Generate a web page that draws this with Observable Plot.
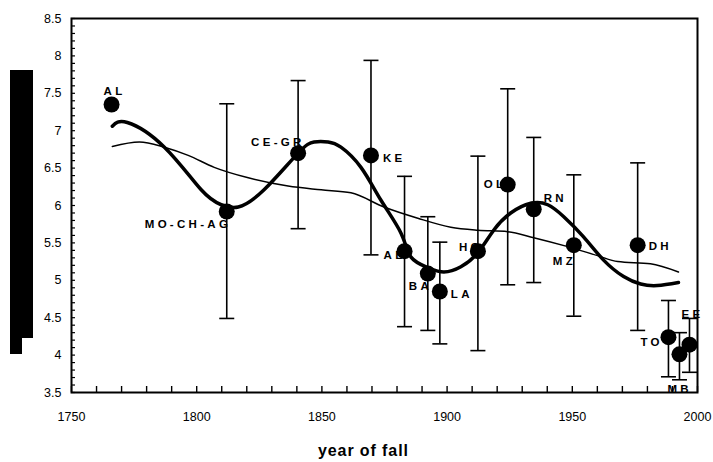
<!DOCTYPE html>
<html><head><meta charset="utf-8">
<script src="https://cdn.jsdelivr.net/npm/d3@7"></script>
<script src="https://cdn.jsdelivr.net/npm/@observablehq/plot@0.6"></script>
<style>
body{margin:0;background:#fff;font-family:"Liberation Sans",Arial,sans-serif;}
#wrap{position:relative;width:713px;height:462px;overflow:hidden;}
#ylab{position:absolute;left:10px;top:70px;width:23px;height:268px;background:#000;}
#ylab2{position:absolute;left:10px;top:337px;width:12px;height:17px;background:#000;}
#xlab{position:absolute;left:318px;top:441px;font-weight:bold;font-size:16px;letter-spacing:0.9px;line-height:20px;white-space:nowrap;}
svg g[aria-label="text"] text{letter-spacing:3.3px}
</style>
</head><body>
<div id="wrap"><div id="chart"></div><div id="ylab"></div><div id="ylab2"></div><div id="xlab">year of fall</div></div>
<script>
// Data
const codes   = ["AL","MO-CH-AG","CE-GR","KE","AB","BA","LA","HO","OL","RN","MZ","DH","TO","MB","EE"];
const years   = [1766,1812,1840.5,1869.6,1883,1892.3,1897.1,1912.3,1924.2,1934.6,1950.6,1976.1,1988.4,1992.8,1996.8];
const values  = [7.35,5.92,6.70,6.67,5.39,5.09,4.85,5.39,6.28,5.95,5.47,5.47,4.24,4.01,4.14];
const errLow  = [null,4.49,5.69,5.34,4.38,4.33,4.15,4.06,4.94,4.97,4.52,4.33,3.71,3.67,3.77];
const errHigh = [null,7.36,7.67,7.94,6.39,5.85,5.51,6.66,7.56,6.91,6.41,6.57,4.73,4.30,4.49];

const smoothYears  = [1766.3,1772.3,1787.1,1801.8,1809.8,1816.6,1826.9,1840.5,1846.9,1852.5,1857.6,1865.6,1873.6,1881.6,1885.6,1892.3,1898.7,1905.5,1912.3,1918.6,1925.4,1933.4,1940.2,1946.6,1954.5,1962.5,1970.5,1977.3,1984.0,1992.4];
const smoothValues = [7.06,7.11,6.78,6.21,6.01,5.98,6.21,6.70,6.85,6.85,6.78,6.51,6.07,5.63,5.31,5.17,5.11,5.18,5.37,5.67,5.90,6.03,6.01,5.85,5.58,5.27,5.05,4.95,4.93,4.97];

const avgYears  = [1766.3,1777.1,1787.1,1796.6,1807.0,1820.6,1836.5,1849.7,1861.6,1874.8,1888.3,1901.5,1912.3,1924.2,1934.6,1948.2,1960.1,1968.1,1981.2,1992.4];
const avgValues = [6.79,6.85,6.78,6.67,6.51,6.37,6.26,6.21,6.17,5.98,5.83,5.71,5.67,5.65,5.57,5.45,5.33,5.25,5.22,5.11];

const xTicks = [1750,1800,1850,1900,1950,2000];
const yTicks = [3.5,4,4.5,5,5.5,6,6.5,7,7.5,8,8.5];
const xMinorTicks = d3.range(1750,2001,10);
const yMinorTicks = d3.range(35,86).map(d=>d/10);

// Label placement (style)
const labelPos = {
  "AL":[3,-13,"middle"], "MO-CH-AG":[-82,13,"start"], "CE-GR":[-47,-11,"start"], "KE":[12,3,"start"],
  "AB":[-21,4,"start"], "BA":[-19,13,"start"], "LA":[11,3,"start"], "HO":[-19,-4,"start"],
  "OL":[-24,0,"start"], "RN":[10,-11,"start"], "MZ":[-21,16,"start"], "DH":[11,1,"start"],
  "TO":[-28,5,"start"], "MB":[-12,35,"start"], "EE":[-8,-30,"start"]
};

const W = 713, H = 432, ML = 71, MR = 16, MT = 18, MB = 40;
const innerW = W - ML - MR, innerH = H - MT - MB;

const pts = codes.map((c,i)=>({code:c, year:years[i], value:values[i], lo:errLow[i], hi:errHigh[i]}));
const bars = pts.filter(d=>d.lo!=null);
const smooth = smoothYears.map((y,i)=>({year:y, value:smoothValues[i]}));
const avg = avgYears.map((y,i)=>({year:y, value:avgValues[i]}));

const cap = {draw(ctx){ ctx.moveTo(-7.5,0); ctx.lineTo(7.5,0); }};

const labelMarks = pts.map(d=>{
  const [dx,dy,anchor] = labelPos[d.code];
  return Plot.text([d], {x:"year", y:"value", text:"code", dx, dy, textAnchor:anchor,
    fontWeight:"bold", fontSize:11.5, fill:"black"});
});

const chart = Plot.plot({
  width:W, height:H,
  marginLeft:ML, marginRight:MR, marginTop:MT, marginBottom:MB,
  style:{fontFamily:"'Liberation Sans', Arial, sans-serif", background:"white", overflow:"visible"},
  x:{domain:[1750,2000]},
  y:{domain:[3.5,8.5]},
  marks:[
    Plot.axisX({ticks:xTicks, tickSize:0, tickPadding:20, fontSize:12.5, label:null, tickFormat:d=>String(d)}),
    Plot.axisY({ticks:yTicks, tickSize:0, tickPadding:10, fontSize:12.5, label:null, tickFormat:d=>String(d)}),
    Plot.ruleX(xMinorTicks, {x:d=>d, insetTop:innerH-6, stroke:"black", strokeWidth:1.4}),
    Plot.ruleY(yMinorTicks, {y:d=>d, insetRight:innerW-4, stroke:"black", strokeWidth:1.2}),
    ...labelMarks,
    Plot.line(avg, {x:"year", y:"value", stroke:"black", strokeWidth:1.5, curve:"monotone-x"}),
    Plot.line(smooth, {x:"year", y:"value", stroke:"black", strokeWidth:3.5, curve:"natural"}),
    Plot.ruleX(bars, {x:"year", y1:"lo", y2:"hi", stroke:"black", strokeWidth:1.6}),
    Plot.dot(bars, {x:"year", y:"hi", symbol:cap, stroke:"black", strokeWidth:1.6, fill:"none"}),
    Plot.dot(bars, {x:"year", y:"lo", symbol:cap, stroke:"black", strokeWidth:1.6, fill:"none"}),
    Plot.dot(pts, {x:"year", y:"value", r:8, fill:"black", stroke:"none"}),
    Plot.frame({stroke:"black", strokeWidth:2})
  ]
});
document.getElementById("chart").appendChild(chart);
</script>
</body></html>
